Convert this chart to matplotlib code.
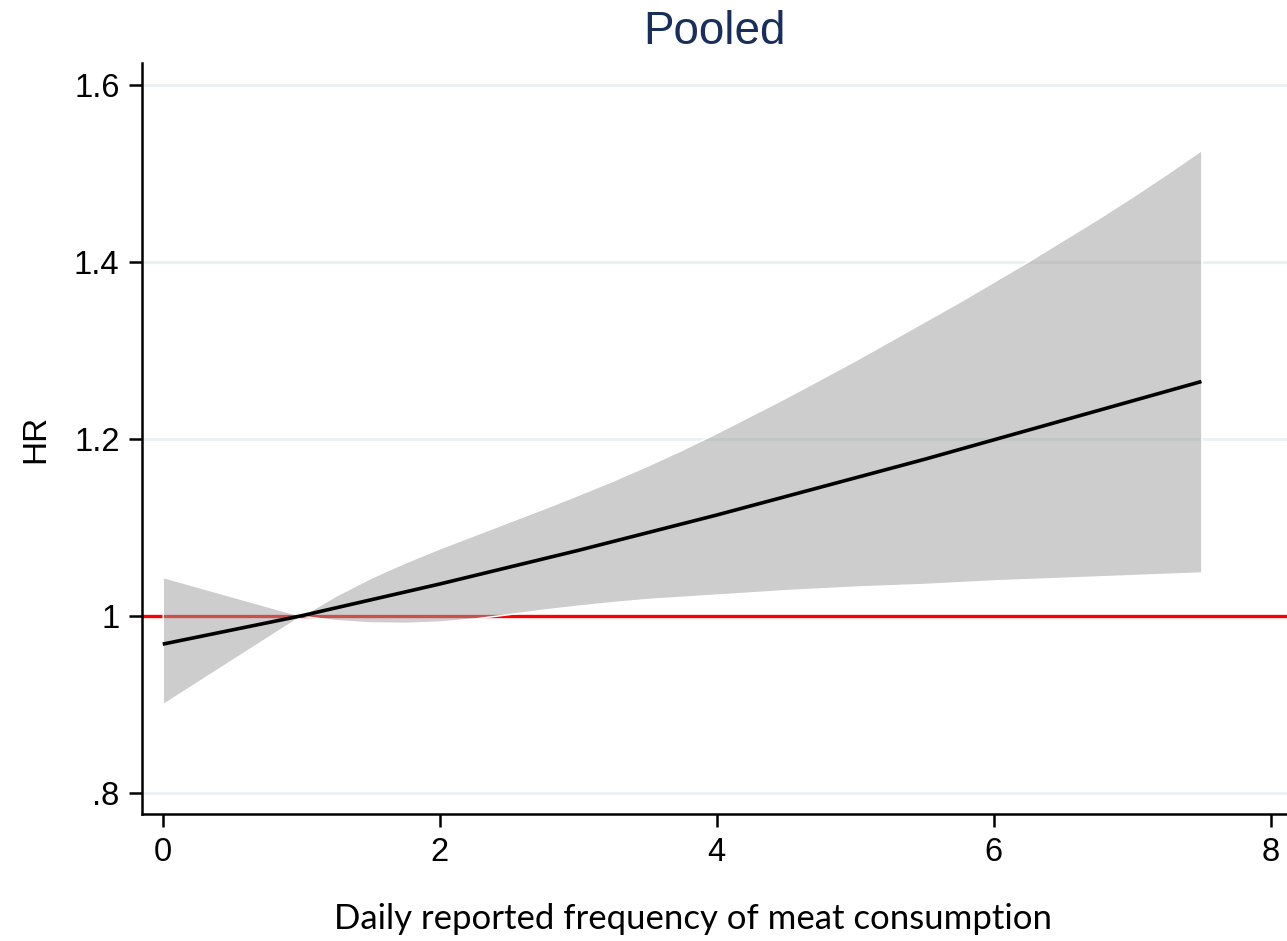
import matplotlib
matplotlib.use("Agg")
import matplotlib.pyplot as plt
from matplotlib.ticker import FixedLocator, FixedFormatter

# ---- data ----
x_vals = [0, 0.25, 0.5, 0.75, 1, 1.25, 1.5, 1.75, 2, 2.25, 2.5, 2.75, 3, 3.25, 3.5, 3.75,
          4, 4.25, 4.5, 4.75, 5, 5.25, 5.5, 5.75, 6, 6.25, 6.5, 6.75, 7, 7.25, 7.5]
hr = [0.968, 0.976, 0.984, 0.992, 1.000, 1.009, 1.018, 1.027, 1.036, 1.0455, 1.055, 1.0645,
      1.074, 1.084, 1.094, 1.104, 1.114, 1.1245, 1.135, 1.1455, 1.156, 1.1665, 1.177, 1.188,
      1.199, 1.210, 1.221, 1.232, 1.243, 1.254, 1.265]
ci_upper = [1.044, 1.033, 1.022, 1.011, 1.000, 1.023, 1.043, 1.0605, 1.0765, 1.0915, 1.1065,
            1.1215, 1.137, 1.153, 1.170, 1.188, 1.207, 1.227, 1.247, 1.268, 1.289, 1.311,
            1.333, 1.355, 1.378, 1.401, 1.425, 1.449, 1.474, 1.500, 1.527]
ci_lower = [0.900, 0.925, 0.950, 0.975, 1.000, 0.995, 0.9925, 0.992, 0.9935, 0.997, 1.002, 1.007,
            1.0115, 1.0155, 1.019, 1.0215, 1.024, 1.0265, 1.029, 1.031, 1.033, 1.0345, 1.036,
            1.038, 1.040, 1.0415, 1.043, 1.0445, 1.046, 1.0475, 1.049]

ref_value = 1.0
y_ticks = [0.8, 1.0, 1.2, 1.4, 1.6]
y_tick_labels = [".8", "1", "1.2", "1.4", "1.6"]
x_ticks = [0, 2, 4, 6, 8]
x_tick_labels = ["0", "2", "4", "6", "8"]
title = "Pooled"
y_label = "HR"
x_label = "Daily reported frequency of meat consumption"

W, H = 1287, 941
fig = plt.figure(figsize=(W / 100, H / 100), dpi=100)
ax = fig.add_axes([141.7 / W, 1 - 814 / H, 1 - 141.7 / W, (814 - 63) / H])

ax.set_xlim(-0.152, 8.118)
ax.set_ylim(0.7759, 1.6252)

# grid lines
for yv in y_ticks:
    ax.axhline(yv, color="#eaf1f2", lw=2.0, zorder=0.5)

# reference line
ax.axhline(ref_value, color="#ff0000", lw=2.4, zorder=1.5)

# confidence band
ax.fill_between(x_vals, ci_lower, ci_upper, facecolor=(0.616, 0.616, 0.616, 0.51),
                edgecolor="white", lw=1.1, zorder=2)

# HR curve
ax.plot(x_vals, hr, color="black", lw=2.6, zorder=3, solid_capstyle="butt")

for s in ["top", "right"]:
    ax.spines[s].set_visible(False)
for s in ["left", "bottom"]:
    ax.spines[s].set_linewidth(1.8)
    ax.spines[s].set_color("black")

ax.yaxis.set_major_locator(FixedLocator(y_ticks))
ax.yaxis.set_major_formatter(FixedFormatter(y_tick_labels))
ax.xaxis.set_major_locator(FixedLocator(x_ticks))
ax.xaxis.set_major_formatter(FixedFormatter(x_tick_labels))
ax.tick_params(axis="both", direction="out", length=9.4, width=1.8, labelsize=23.5,
               labelfontfamily="Liberation Sans")
ax.tick_params(axis="y", pad=6.5)
ax.tick_params(axis="x", pad=7.5)

ax.set_title(title, fontsize=33, color="#1a2e5a", family="Liberation Sans", pad=14)

fig.text(36 / W, 1 - 439 / H, y_label, rotation=90, ha="center", va="center",
         fontsize=24, family="Liberation Sans")
fig.text(693 / W, 1 - 929 / H, x_label, ha="center", va="baseline",
         fontsize=25, family="Lato")

fig.savefig("out.png", dpi=100)
